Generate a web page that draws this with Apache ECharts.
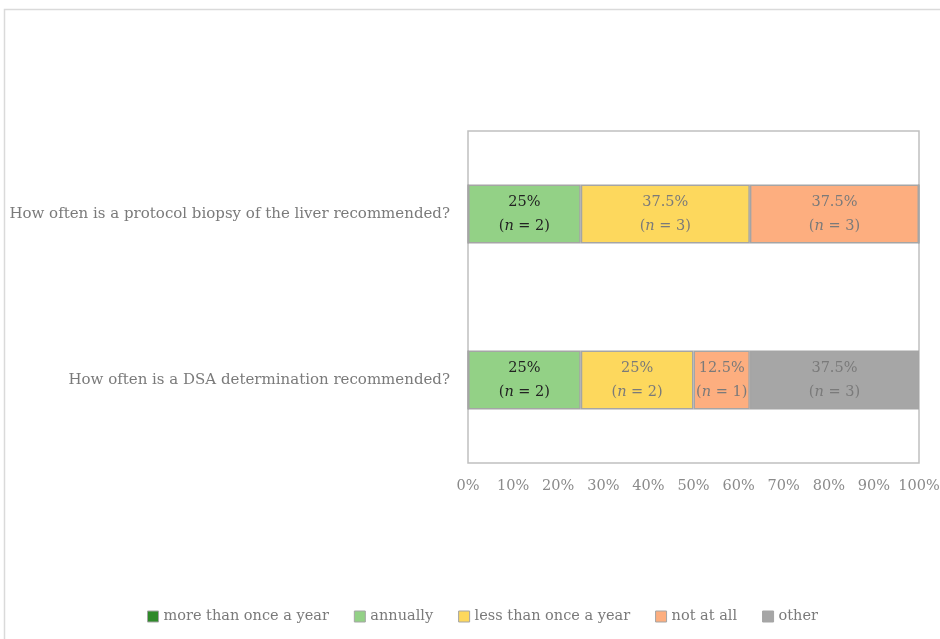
<!DOCTYPE html>
<html>
<head>
<meta charset="utf-8">
<script src="https://cdn.jsdelivr.net/npm/echarts@6/dist/echarts.min.js"></script>
<style>
  html, body { margin: 0; padding: 0; background: #fff; }
  #chart { width: 940px; height: 639px; }
</style>
</head>
<body>
<div id="chart"></div>
<script>
// bottom to top, as ECharts stacks a category y axis
const questions = [
  'How often is a DSA determination recommended?',
  'How often is a protocol biopsy of the liver recommended?'
];
const seriesNames = ['more than once a year', 'annually', 'less than once a year', 'not at all', 'other'];
const moreThanOnce = [0, 0];
const annually = [25, 25];
const lessThanOnce = [25, 37.5];
const notAtAll = [12.5, 37.5];
const other = [37.5, 0];
const nMoreThanOnce = [0, 0];
const nAnnually = [2, 2];
const nLessThanOnce = [2, 3];
const nNotAtAll = [1, 3];
const nOther = [3, 0];
const xTicks = [0, 10, 20, 30, 40, 50, 60, 70, 80, 90, 100];

const colors = ['#2f8a2a', '#93d186', '#fdd85d', '#fdae7f', '#a6a6a6'];
const labelColors = ['#222', '#222', '#7a7a7a', '#7a7a7a', '#7a7a7a'];
const values = [moreThanOnce, annually, lessThanOnce, notAtAll, other];
const counts = [nMoreThanOnce, nAnnually, nLessThanOnce, nNotAtAll, nOther];
const FONT = '"DejaVu Serif", serif';

const chart = echarts.init(document.getElementById('chart'));

const series = seriesNames.map((name, k) => ({
  name: name,
  type: 'bar',
  stack: 'total',
  barWidth: 59,
  data: values[k],
  itemStyle: { color: colors[k], borderColor: '#a5a5a5', borderWidth: 1.5 },
  label: {
    show: true,
    position: 'inside',
    color: labelColors[k],
    fontFamily: FONT,
    fontSize: 14.5,
    lineHeight: 24,
    formatter: function (p) {
      if (!p.value) return '';
      const n = counts[k][p.dataIndex];
      return '{a|' + p.value + '%}\n{a|(}{i|n}{a| = ' + n + ')}';
    },
    rich: {
      a: { fontFamily: FONT, fontSize: 14.5, lineHeight: 24, color: labelColors[k] },
      i: { fontFamily: FONT, fontSize: 14.5, lineHeight: 24, fontStyle: 'italic', color: labelColors[k] }
    }
  }
}));

chart.setOption({
  animation: false,
  graphic: [{
    type: 'rect',
    shape: { x: 4.5, y: 9.5, width: 1000, height: 700 },
    style: { fill: 'none', stroke: '#dadada', lineWidth: 1.5 },
    silent: true
  }],
  grid: {
    left: 468, right: 21, top: 131, bottom: 176,
    outerBoundsMode: 'none',
    show: true, borderColor: '#c0c0c0', borderWidth: 1.5
  },
  xAxis: {
    type: 'value',
    min: xTicks[0],
    max: xTicks[xTicks.length - 1],
    interval: 10,
    axisLine: { show: false },
    axisTick: { show: false },
    splitLine: { show: false },
    axisLabel: {
      color: '#8a8a8a', fontFamily: FONT, fontSize: 14.5, margin: 16,
      formatter: '{value}%'
    }
  },
  yAxis: {
    type: 'category',
    data: questions,
    axisLine: { show: false },
    axisTick: { show: false },
    axisLabel: { color: '#7a7a7a', fontFamily: FONT, fontSize: 15, margin: 18 }
  },
  legend: {
    data: seriesNames,
    bottom: 10,
    left: 142,
    icon: 'rect',
    itemWidth: 11,
    itemHeight: 11,
    itemGap: 25,
    itemStyle: { borderColor: '#a5a5a5', borderWidth: 1 },
    textStyle: { color: '#7a7a7a', fontFamily: FONT, fontSize: 14.5 }
  },
  series: series
});
</script>
</body>
</html>
